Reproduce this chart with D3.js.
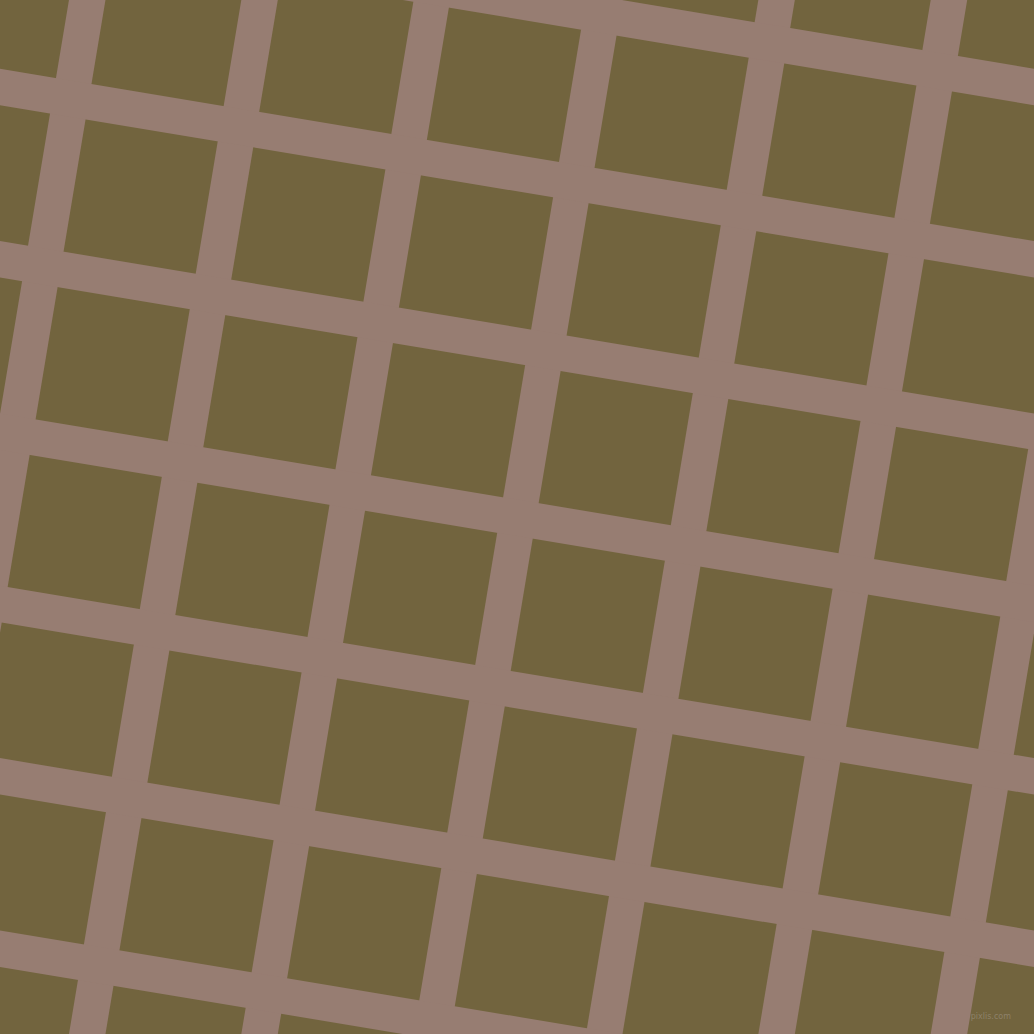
<!DOCTYPE html>
<html>
<head>
<meta charset="utf-8">
<script src="https://cdn.jsdelivr.net/npm/d3@7/dist/d3.min.js"></script>
<style>html,body{margin:0;padding:0;background:#72643e;overflow:hidden}</style>
</head>
<body>
<script>
// Grid line indices (columns and rows of the tilted lattice)
const columns = [-2, -1, 0, 1, 2, 3, 4, 5, 6, 7, 8];
const rows = [-2, -1, 0, 1, 2, 3, 4, 5, 6, 7, 8];
const watermark = ["pixlis.com"];

const W = 1034, H = 1034;
const period = 170, lineW = 36, angle = 9.4623;
const origin = [70.75, 98.75];

const svg = d3.select("body").append("svg")
  .attr("width", W).attr("height", H);

svg.append("rect").attr("width", W).attr("height", H).attr("fill", "#72643e");

const pos = d3.scaleLinear().domain([0, 1]).range([0, period]);

const g = svg.append("g")
  .attr("transform", `translate(${origin[0]},${origin[1]}) rotate(${angle})`);

const lineColor = "#977d72";

g.selectAll("rect.v").data(columns).join("rect")
  .attr("class", "v")
  .attr("x", d => pos(d) - lineW / 2)
  .attr("y", -1500)
  .attr("width", lineW)
  .attr("height", 3000)
  .attr("fill", lineColor);

g.selectAll("rect.h").data(rows).join("rect")
  .attr("class", "h")
  .attr("x", -1500)
  .attr("y", d => pos(d) - lineW / 2)
  .attr("width", 3000)
  .attr("height", lineW)
  .attr("fill", lineColor);

svg.selectAll("text.wm").data(watermark).join("text")
  .attr("class", "wm")
  .attr("x", 1011).attr("y", 1019)
  .attr("text-anchor", "end")
  .attr("font-family", "DejaVu Sans, sans-serif")
  .attr("font-size", 8)
  .attr("fill", "#8d8169")
  .text(d => d);
</script>
</body>
</html>
